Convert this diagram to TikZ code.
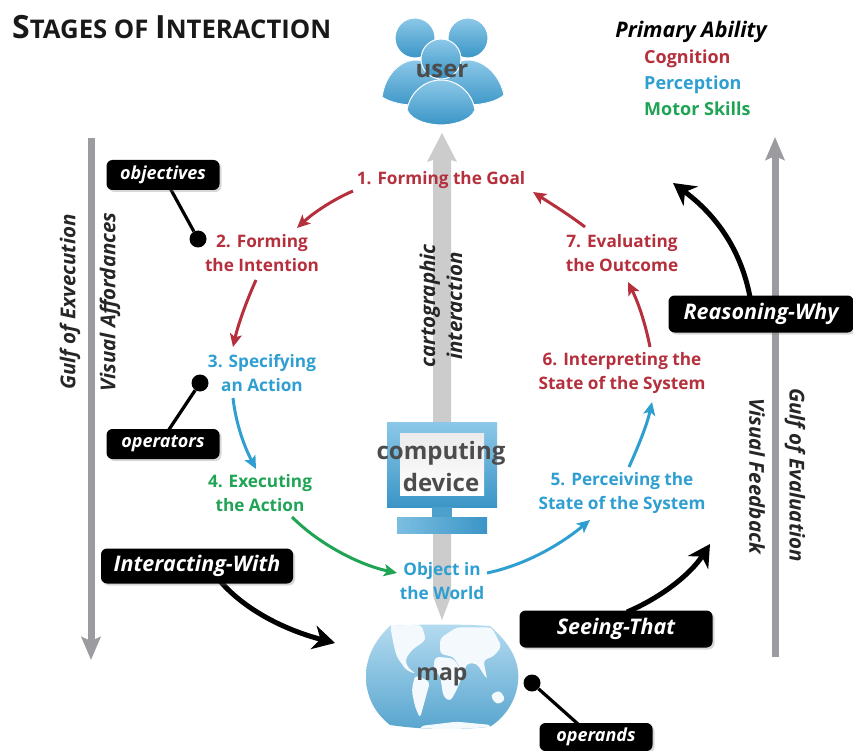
\documentclass[tikz,border=0pt]{standalone}
\usepackage{fontspec}
\setmainfont{Open Sans}
\usetikzlibrary{arrows.meta,shadows,calc}
\definecolor{cogred}{HTML}{B5303C}
\definecolor{perblue}{HTML}{2F9FD2}
\definecolor{motgreen}{HTML}{1FA354}
\definecolor{arrgray}{HTML}{9C9CA0}
\definecolor{lightblue}{HTML}{8CC8E8}
\definecolor{darkblue}{HTML}{3A95C6}
\tikzset{
 stagelabel/.style={font=\fontsize{17.2}{24}\selectfont\bfseries,align=center,inner sep=1pt},
 redstage/.style={stagelabel,text=cogred},
 bluestage/.style={stagelabel,text=perblue},
 greenstage/.style={stagelabel,text=motgreen},
 rot/.style={font=\fontsize{20.5}{27}\selectfont\bfseries\itshape,align=center,text=black!85,inner sep=0pt},
 blackbox/.style={rounded corners=6pt,fill=black,text=white,inner sep=0pt,drop shadow={shadow xshift=2pt,shadow yshift=-2pt,opacity=.3}},
 smallbox/.style={blackbox,minimum width=113pt,minimum height=30pt,font=\fontsize{18}{20}\selectfont\bfseries\itshape},
 bigbox/.style={blackbox,font=\fontsize{21.5}{24}\selectfont\bfseries\itshape},
 dot/.style={circle,fill=black,minimum size=17pt,inner sep=0pt},
 stem/.style={line width=3.2pt,black},
 bigarrow/.style={line width=5pt,black,-{Stealth[length=22pt,width=24pt,inset=7pt]}},
 cyc/.style={line width=3pt,-{Stealth[length=13pt,width=12pt,inset=3pt]}},
 grayrod/.style={line width=7pt,arrgray,-{Stealth[length=23pt,width=19pt,inset=4pt]}},
 iconlabel/.style={font=\fontsize{24}{32}\selectfont\bfseries,text=black!70,align=center,inner sep=0pt},
 icon/.style={draw=white,line width=1pt,top color=lightblue,bottom color=darkblue},
}
\newcommand{\mapoutline}{(150,228) .. controls (250,222) and (360,222) .. (450,228) .. controls (510,280) and (535,330) .. (535,380) .. controls (535,440) and (500,500) .. (450,530) .. controls (360,540) and (250,540) .. (150,525) .. controls (105,490) and (78,440) .. (78,380) .. controls (78,320) and (105,270) .. (150,228) -- cycle}
\begin{document}
\begin{tikzpicture}[x=1pt,y=-1pt]
\useasboundingbox (0,0) rectangle (853,751);
\fill[white] (0,0) rectangle (853,751);
% gray rods
\coordinate (rodLtop) at (91,138); \coordinate (rodLbot) at (91,660);
\coordinate (rodRbot) at (775,657); \coordinate (rodRtop) at (775,137);
\draw[grayrod] (rodLtop) -- (rodLbot);
\draw[grayrod] (rodRbot) -- (rodRtop);
% central arrow
\fill[black!20] (433,160) -- (427,162) -- (442,133) -- (457,162) -- (451,160) -- (451,596) -- (442,620) -- (433,596) -- cycle;
% title
\node[anchor=west,inner sep=0pt,font=\bfseries,text=black!90] (title) at (12,27) {\fontsize{32}{34}\selectfont S\fontsize{25.7}{34}\selectfont TAGES OF \fontsize{32}{34}\selectfont I\fontsize{25.7}{34}\selectfont NTERACTION};
% legend
\node[font=\fontsize{21.5}{24}\selectfont\bfseries\itshape,inner sep=0pt] (ability) at (691,32) {Primary Ability};
\node[anchor=west,font=\fontsize{18}{20}\selectfont\bfseries,text=cogred,inner sep=0pt] (cog) at (644,59) {Cognition};
\node[anchor=west,font=\fontsize{18}{20}\selectfont\bfseries,text=perblue,inner sep=0pt] (perc) at (644,85) {Perception};
\node[anchor=west,font=\fontsize{18}{20}\selectfont\bfseries,text=motgreen,inner sep=0pt] (motor) at (644,109) {Motor Skills};
% user icon
\fill[icon] (382,97) .. controls (385,75) and (400,60) .. (416,60) .. controls (432,60) and (448,75) .. (451,97) .. controls (435,108) and (398,108) .. (382,97) -- cycle;
\fill[icon] (433,97) .. controls (436,75) and (452,60) .. (468,60) .. controls (484,60) and (500,75) .. (504,95) .. controls (490,108) and (448,108) .. (433,97) -- cycle;
\draw[icon] (415,38) circle (20);
\draw[icon] (468,38) circle (20);
\draw[icon] (441,59) circle (20);
\draw[icon] (407,110) .. controls (410,92) and (425,80) .. (441,80) .. controls (457,80) and (472,92) .. (475,110) .. controls (470,122) and (450,125) .. (441,125) .. controls (432,125) and (412,122) .. (407,110) -- cycle;
\node[iconlabel] (user) at (442,71) {user};
% computing device
\fill[top color=lightblue,bottom color=darkblue] (387,422) rectangle (497,507);
\fill[top color=black!8,bottom color=white] (400,433) rectangle (484,495);
\fill[darkblue!90] (432,507) rectangle (452,517);
\fill[left color=lightblue!80!darkblue,right color=darkblue] (397,517) rectangle (487,533);
\node[iconlabel] (device) at (441,466) {computing\\device};
% map
\begin{scope}[shift={(340,550)},x=1pt/3,y=-1pt/3]
\shade[top color=lightblue!65!white,bottom color=darkblue!85!white] \mapoutline;
\begin{scope}
\clip \mapoutline;
\foreach \p in {
 {(150,225) -- (245,225) -- (258,270) -- (215,300) -- (195,330) -- (205,355) -- (230,372) -- (200,362) -- (170,320) -- (160,280) -- cycle},
 {(225,375) -- (270,395) -- (255,450) -- (240,505) -- (225,470) -- (215,420) -- cycle},
 {(300,265) -- (350,232) -- (455,232) -- (485,290) -- (460,320) -- (430,330) -- (442,390) -- (410,340) -- (380,340) -- (370,370) -- (340,320) -- (300,312) -- cycle},
 {(285,320) -- (340,325) -- (370,370) -- (350,420) -- (330,455) -- (310,440) -- (300,375) -- (280,360) -- cycle},
 {(450,435) -- (480,420) -- (497,450) -- (470,465) -- cycle},
 {(240,528) -- (350,515) -- (455,525) -- (455,550) -- (240,550) -- cycle}}
 {\fill[white!90!lightblue,rounded corners=4pt] \p;}
\end{scope}
\end{scope}
\node[iconlabel,font=\fontsize{23}{27}\selectfont\bfseries] (map) at (442,677) {map};
% stages
\node[redstage] (s1) at (441,180) {1. Forming the Goal};
\node[redstage] (s2) at (262,253) {2. Forming\\the Intention};
\node[bluestage] (s3) at (262,373) {3. Specifying\\an Action};
\node[greenstage] (s4) at (260,493) {4. Executing\\the Action};
\node[bluestage] (obj) at (442,581) {Object in\\the World};
\node[bluestage] (s5) at (622,493) {5. Perceiving the\\State of the System};
\node[redstage] (s6) at (622,373) {6. Interpreting the\\State of the System};
\node[redstage] (s7) at (622,253) {7. Evaluating\\the Outcome};
% cycle arrows
\coordinate (p1a) at (353,191); \coordinate (p1b) at (297,228);
\coordinate (p2a) at (256,280); \coordinate (p2b) at (233,347);
\coordinate (p3a) at (233,398); \coordinate (p3b) at (256,469);
\coordinate (p4a) at (292,517); \coordinate (p4b) at (397,573);
\coordinate (p5a) at (487,573); \coordinate (p5b) at (590,520);
\coordinate (p6a) at (629,467); \coordinate (p6b) at (652,402);
\coordinate (p7a) at (650,347); \coordinate (p7b) at (628,282);
\coordinate (p8a) at (585,227); \coordinate (p8b) at (533,192);
\draw[cyc,cogred] (p1a) .. controls (332,200) and (312,214) .. (p1b);
\draw[cyc,cogred] (p2a) .. controls (246,302) and (238,325) .. (p2b);
\draw[cyc,perblue] (p3a) .. controls (236,425) and (245,448) .. (p3b);
\draw[cyc,motgreen] (p4a) .. controls (320,545) and (360,565) .. (p4b);
\draw[cyc,perblue] (p5a) .. controls (525,565) and (560,545) .. (p5b);
\draw[cyc,perblue] (p6a) .. controls (638,447) and (647,425) .. (p6b);
\draw[cyc,cogred] (p7a) .. controls (645,322) and (638,302) .. (p7b);
\draw[cyc,cogred] (p8a) .. controls (568,214) and (550,203) .. (p8b);
% rotated labels
\node[rot,rotate=90] (cart) at (441,306) {cartographic\\interaction};
\node[rot,rotate=90] (gexec) at (70,302) {Gulf of Exvecution};
\node[rot,rotate=90] (vaff) at (110,302) {Visual Affordances};
\node[rot,rotate=-90] (geval) at (795,475) {Gulf of Evaluation};
\node[rot,rotate=-90] (vfeed) at (757,476) {Visual Feedback};
% black boxes
\node[dot] (d1) at (198,239) {};
\node[dot] (d2) at (200,383) {};
\node[dot] (d3) at (532,683) {};
\coordinate (b1) at (170,188); \coordinate (b2) at (168,431); \coordinate (b3) at (578,724);
\draw[stem] (b1) -- (d1);
\draw[stem] (b2) -- (d2);
\draw[stem] (b3) -- (d3);
\node[smallbox] (objectives) at (163,175) {objectives};
\node[smallbox] (operators) at (163,444) {operators};
\node[smallbox,minimum height=28pt] (operands) at (596,737) {operands};
\coordinate (ca) at (220,581); \coordinate (ct) at (335,643);
\coordinate (cb) at (627,612); \coordinate (cu) at (710,544);
\coordinate (cc) at (750,297); \coordinate (cv) at (673,183);
\draw[bigarrow] (ca) .. controls (245,610) and (285,630) .. (ct);
\draw[bigarrow] (cb) .. controls (660,598) and (690,575) .. (cu);
\draw[bigarrow] (cc) .. controls (740,245) and (712,212) .. (cv);
\node[bigbox,minimum width=192pt,minimum height=35pt] (iw) at (197,566) {Interacting-With};
\node[bigbox,minimum width=193pt,minimum height=37pt] (st) at (616,629) {Seeing-That};
\node[bigbox,minimum width=185pt,minimum height=37pt] (rw) at (761,314) {Reasoning-Why};
\end{tikzpicture}
\end{document}
